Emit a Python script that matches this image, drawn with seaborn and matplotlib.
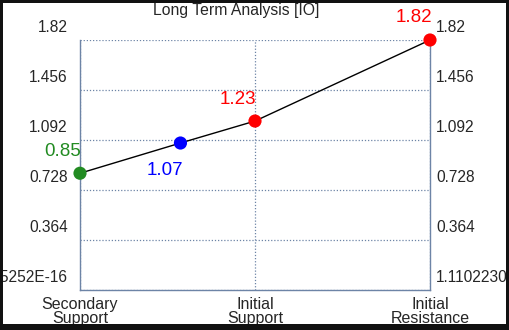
import matplotlib
matplotlib.use("Agg")
import matplotlib.pyplot as plt
from matplotlib.patches import Rectangle
import seaborn as sns
import pandas as pd

# levels, in drawing order along the line
level_names = ["Secondary Support", "Current", "Initial Support", "Initial Resistance"]
level_x = [0, 0.574, 1, 2]
level_values = [0.85, 1.07, 1.23, 1.82]
level_colors = ["#228B22", "#0000FF", "#FF0000", "#FF0000"]
label_offsets = [(-17, 22), (-16, -27), (-17, 22), (-16, 22)]

x_ticks = [0, 1, 2]
x_labels = ["Secondary\nSupport", "Initial\nSupport", "Initial\nResistance"]
y_ticks = [0, 0.364, 0.728, 1.092, 1.456, 1.82]
y_labels = ["1.1102230246255252E-16", "0.364", "0.728", "1.092", "1.456", "1.82"]

df = pd.DataFrame({"name": level_names, "x": level_x, "value": level_values})

sns.set_style("white")
plt.rcParams["font.family"] = ["Liberation Sans", "DejaVu Sans"]
grid_col = "#6d84a6"

fig = plt.figure(figsize=(5.1, 3.3), dpi=100)
W, H = 510, 330
ax = fig.add_axes([80 / W, 40 / H, 350 / W, 250 / H])

sns.lineplot(data=df, x="x", y="value", color="black", linewidth=1.0, ax=ax, zorder=3)
sns.scatterplot(data=df, x="x", y="value", hue="name", palette=level_colors,
                s=90, edgecolor="none", legend=False, ax=ax, zorder=4, clip_on=False)

for xv, yv, c, (dx, dy) in zip(level_x, level_values, level_colors, label_offsets):
    ax.annotate(f"{yv:.2f}", (xv, yv), xytext=(dx, dy), textcoords="offset pixels",
                ha="center", va="center", color=c, fontsize=13.5, zorder=5)

ax.set_xlim(0, 2)
ax.set_ylim(0, 1.82)
ax.set_xticks(x_ticks)
ax.set_xticklabels(x_labels, fontsize=11.5, linespacing=0.95)
ax.set_yticks(y_ticks)
ax.set_yticklabels([])
ax.tick_params(axis="both", length=0)
ax.tick_params(axis="x", pad=5)
ax.set_xlabel("")
ax.set_ylabel("")

# y tick labels sit above their grid lines, on both sides
ytrans = ax.get_yaxis_transform()
for yv, lab in zip(y_ticks, y_labels):
    ax.annotate(lab, (0, yv), xycoords=ytrans, xytext=(-12, 13), textcoords="offset pixels",
                ha="right", va="center", fontsize=11.2, annotation_clip=False)
    ax.annotate(lab, (1, yv), xycoords=ytrans, xytext=(6, 13), textcoords="offset pixels",
                ha="left", va="center", fontsize=11.2, annotation_clip=False)

ax.grid(True, color=grid_col, linestyle=(0, (1, 1.5)), linewidth=0.9)
for side in ["left", "right", "bottom"]:
    ax.spines[side].set_color(grid_col)
    ax.spines[side].set_linewidth(1.0)
ax.spines["top"].set_visible(False)

fig.text(236 / W, 1 - 11 / H, "Long Term Analysis [IO]", ha="center", va="center", fontsize=11.3)

# dark frame around the picture
frame = "#111111"
for x0, y0, w, h in [(0, 0, 3, H), (W - 4, 0, 4, H), (0, 0, W, 6), (0, H - 3, W, 3)]:
    fig.add_artist(Rectangle((x0 / W, y0 / H), w / W, h / H, transform=fig.transFigure,
                             facecolor=frame, edgecolor="none", zorder=20))

fig.savefig("out.png", dpi=100)
